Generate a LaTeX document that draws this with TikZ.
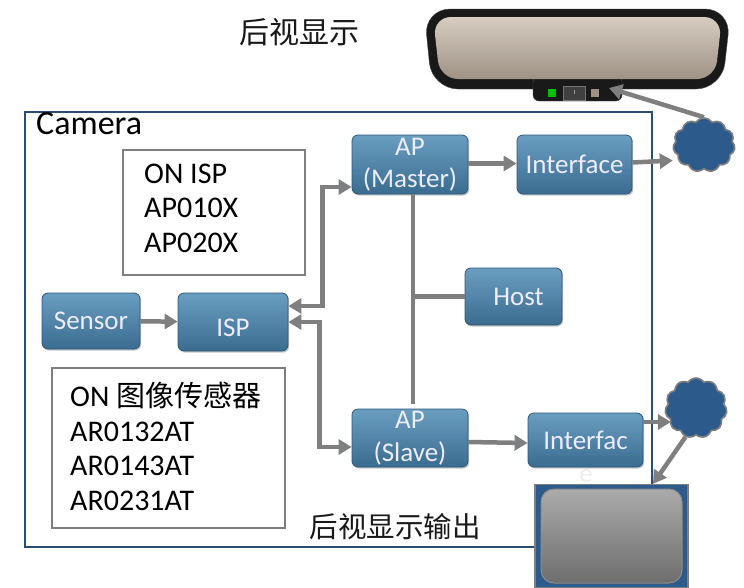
\documentclass[tikz,border=0pt]{standalone}
\usepackage{fontspec}
\setmainfont{Carlito}
\newfontfamily\cjk{Noto Sans CJK SC}
\usetikzlibrary{arrows.meta,shadows,shapes.symbols}

\definecolor{nodetop}{HTML}{6A9EC1}
\definecolor{nodebot}{HTML}{3A6C90}
\definecolor{nodeedge}{HTML}{2C5877}
\definecolor{arrgray}{HTML}{7F7F7F}
\definecolor{framblue}{HTML}{2B4D73}
\definecolor{cloudblue}{HTML}{2C5A8A}
\definecolor{mirtop}{HTML}{D6CCC0}
\definecolor{mirbot}{HTML}{9E9285}

\tikzset{
  bluebox/.style={rounded corners=6pt, top color=nodetop, bottom color=nodebot,
    draw=nodeedge, line width=0.8pt,
    drop shadow={shadow xshift=1.2pt, shadow yshift=-1.6pt, opacity=0.45},
    text=white!93!blue, font=\fontsize{27}{32.5}\selectfont, align=center, inner sep=0pt},
  infobox/.style={draw=arrgray, line width=2pt},
  arr/.style={draw=arrgray, line width=4.5pt, -{Triangle[length=13pt,width=15pt]}},
  dblarr/.style={draw=arrgray, line width=4.5pt,
    {Triangle[length=13pt,width=15pt]}-{Triangle[length=13pt,width=15pt]}},
  bus/.style={draw=arrgray, line width=4.5pt},
  netcloud/.style={cloud, cloud puffs=11, cloud puff arc=115, fill=cloudblue,
    draw=arrgray, line width=1.6pt, inner sep=0pt, aspect=1.1},
}

\begin{document}
\begin{tikzpicture}[x=1pt,y=1pt]
\useasboundingbox (0,0) rectangle (744,-587);

% rear-view mirror
\filldraw[fill=black!90, draw=black!70, rounded corners=26pt]
  (424,-9) -- (731,-9) -- (722,-89) -- (432,-89) -- cycle;
\filldraw[fill=black!90, draw=black!70, rounded corners=6pt]
  (533,-76) rectangle (622,-101);
\shade[top color=mirtop, bottom color=mirbot, rounded corners=18pt]
  (433,-17) -- (722,-17) -- (715,-79) -- (440,-79) -- cycle;
\fill[green!75!black] (548,-89) rectangle (556,-97);
\filldraw[fill=black!75, draw=black!55] (563,-86) rectangle (585,-100);
\draw[white!60!black, line width=0.6pt] (574,-90) -- (574,-94);
\fill[mirbot] (591,-89) rectangle (599,-97);

% title of the mirror
\node[font=\cjk\fontsize{30}{32}\selectfont, text=black!90] (title) at (299,-32) {后视显示};

% camera enclosure
\draw[framblue, line width=2pt] (25,-112) rectangle (652,-547);
\node[anchor=north west, inner sep=0pt, font=\fontsize{34}{38}\selectfont] (camlbl) at (36,-112) {Camera};

% part-number boxes
\draw[infobox] (123,-150) rectangle (305,-275);
\node[anchor=north west, inner sep=0pt, align=left, font=\fontsize{30}{34.3}\selectfont] (isplist) at (144,-164)
  {ON ISP\\AP010X\\AP020X};
\draw[infobox] (52,-368) rectangle (285,-528);
\node[anchor=north west, inner sep=0pt, align=left, font=\fontsize{30}{34.5}\selectfont] (senslist) at (70,-382)
  {ON {\cjk\fontsize{29}{34.5}\selectfont 图像传感器}\\AR0132AT\\AR0143AT\\AR0231AT};

% processing blocks
\node[bluebox, minimum width=98pt, minimum height=56pt] (sensor) at (91,-321) {Sensor};
\node[bluebox, minimum width=110pt, minimum height=58pt] (isp) at (233,-322) {\raisebox{-14.5pt}[0pt][0pt]{ISP}};
\node[bluebox, minimum width=116pt, minimum height=59pt] (apm) at (410,-164.5) {AP\\(Master)};
\node[bluebox, minimum width=115pt, minimum height=59pt] (ifm) at (574.5,-164.5) {Interface};
\node[bluebox, minimum width=97pt, minimum height=57pt] (host) at (513.5,-296.5) {\hspace*{10pt}Host};
\node[bluebox, minimum width=116pt, minimum height=58pt] (aps) at (410,-438) {AP\\(Slave)};
\node[bluebox, minimum width=115pt, minimum height=54pt] (ifs) at (585.5,-440) {Interfac};
\node[text=black!7, font=\fontsize{27}{30}\selectfont, inner sep=0pt] (ifstail) at (586,-476) {e};

% networks
\node[netcloud, minimum width=62pt, minimum height=54pt] (cl1) at (704,-145) {};
\node[netcloud, minimum width=62pt, minimum height=60pt] (cl2) at (696,-408) {};

% display unit
\node[draw=arrgray, fill=cloudblue, line width=1.2pt, minimum width=153pt, minimum height=103pt,
  inner sep=0pt] (disp) at (611.5,-536) {};
\shade[top color=black!33, bottom color=black!57, draw=black!45, line width=1pt, rounded corners=13pt]
  (541,-489) rectangle (682,-583);
\node[font=\cjk\fontsize{28.5}{30}\selectfont, text=black!90] (displbl) at (395,-527) {后视显示输出};

% connectors
\coordinate (busend) at (413,-404);
\coordinate (mirtip) at (609,-88);
\draw[arr] (sensor) -- (isp);
\draw[dblarr] ([yshift=16pt]isp.east) -- ++(34,0) |- ([yshift=-22.5pt]apm.west);
\draw[dblarr] (isp.east) -- ++(31,0) |- ([yshift=-9pt]aps.west);
\draw[bus] ([xshift=3pt]apm.south) -- (busend);
\draw[bus] (host.west) -- (host.west -| busend);
\draw[arr] ([yshift=1pt]apm.east) -- ([yshift=1pt]ifm.west);
\draw[arr] ([yshift=2pt]ifm.east) -- ([yshift=4pt]cl1.west |- ifm.east);
\draw[arr] ([yshift=-4pt]aps.east) -- ([yshift=-3pt]ifs.west);
\draw[arr] ([yshift=18pt]ifs.east) -- ([xshift=6pt,yshift=18pt]cl2.west |- ifs.east);
\draw[arr] (cl1.north) -- (mirtip);
\draw[arr] (cl2.250) -- ([xshift=41.5pt]disp.north);
\end{tikzpicture}
\end{document}
